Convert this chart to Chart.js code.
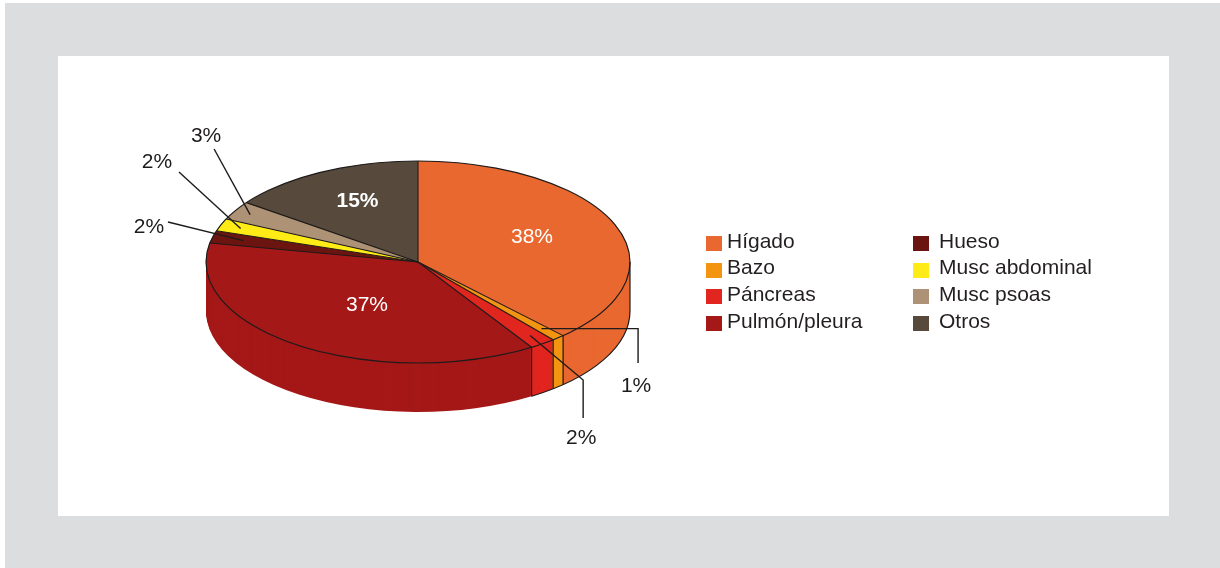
<!DOCTYPE html>
<html><head><meta charset="utf-8">
<script src="https://cdn.jsdelivr.net/npm/chart.js@4/dist/chart.umd.min.js"></script>
<style>
html,body{margin:0;padding:0;background:#fff;}
#wrap{position:relative;width:1220px;height:568px;overflow:hidden;font-family:"Liberation Sans",Arial,sans-serif;}
#bg{position:absolute;left:5px;top:3px;width:1215px;height:565px;background:#dcdddf;}
#panel{position:absolute;left:58px;top:56px;width:1111px;height:460px;background:#fff;}
#c{position:absolute;left:0;top:0;}
.lg{position:absolute;font-size:21px;color:#231f20;white-space:nowrap;line-height:21px;}
.bx{position:absolute;width:16px;height:15px;}
</style></head>
<body><div id="wrap"><div id="bg"></div><div id="panel"></div><canvas id="c" width="1220" height="568"></canvas><div id="legend"></div></div>
<script>
// ---- data ----
const categories = ['Hígado','Bazo','Páncreas','Pulmón/pleura','Hueso','Musc abdominal','Musc psoas','Otros'];
const values = [38,1,2,37,2,2,3,15];
const colors = ['#e96830','#f39511','#e1251f','#a51818','#6b1410','#ffec16','#ad9275','#574a3c'];

// ---- label placement (style) ----
const labelPlace = [
  {type:'in', f:0.6, dx:-4.3, dy:-3.7, color:'#ffffff', bold:false},
  {type:'elbow', f:0.88, lx:94.7, ly:56.3, ex:96.7, ey1:0, ey2:34.3},
  {type:'elbow', f:0.9, lx:51, ly:100.5, ex:53, ey1:44.5, ey2:82.5},
  {type:'in', f:0.46, dx:3.8, dy:2.6, color:'#ffffff', bold:false},
  {type:'line', f:0.85, lx:-94.5, ly:-15.6, sx:-75.5, sy:-18.6},
  {type:'line', f:0.9, lx:-83.6, ly:-68.5, sx:-61.6, sy:-56.5},
  {type:'line', f:0.92, lx:-44, ly:-79.7, sx:-36, sy:-65.7},
  {type:'in', f:0.66, dx:3, dy:-3, color:'#ffffff', bold:true}
];

const DEPTH = 49;
const K = 101/212;
const INK = '#1e1b1b';

function ellipseT(ctx, cx, cy){ ctx.translate(cx, cy); ctx.scale(1, K); ctx.translate(-cx, -cy); }

const pie3d = {
  id: 'pie3d',
  beforeDatasetsDraw(chart){
    const ctx = chart.ctx;
    const arcs = chart.getDatasetMeta(0).data;
    const cx = arcs[0].x, cy = arcs[0].y;
    for (let d = DEPTH; d >= 1; d--) {
      ctx.save();
      ctx.translate(0, d);
      ellipseT(ctx, cx, cy);
      arcs.forEach(a => a.draw(ctx));
      ctx.restore();
    }
    ctx.save();
    ellipseT(ctx, cx, cy);
  },
  afterDatasetsDraw(chart){
    const ctx = chart.ctx;
    ctx.restore();
    const arcs = chart.getDatasetMeta(0).data;
    const cx = arcs[0].x, cy = arcs[0].y, rx = arcs[0].outerRadius, ry = rx*K;
    const pt = (a, f, dy) => [cx + rx*f*Math.cos(a), cy + ry*f*Math.sin(a) + (dy||0)];
    ctx.save();
    ctx.strokeStyle = INK;
    ctx.lineWidth = 1.2;
    // side: vertical edges at boundaries on the front half
    arcs.forEach(a => {
      const ang = a.startAngle;
      if (Math.sin(ang) > 0.02) {
        const p = pt(ang, 1);
        ctx.beginPath(); ctx.moveTo(p[0], p[1]); ctx.lineTo(p[0], p[1] + DEPTH); ctx.stroke();
      }
    });
    // right silhouette + bottom edge of the right part of the side
    ctx.beginPath();
    ctx.moveTo(cx + rx, cy);
    ctx.ellipse(cx, cy + DEPTH, rx, ry, 0, 0, arcs[2].endAngle);
    ctx.stroke();
    // top ellipse
    ctx.beginPath(); ctx.ellipse(cx, cy, rx, ry, 0, 0, Math.PI*2); ctx.stroke();
    // radial boundaries
    ctx.lineWidth = 1.1;
    arcs.forEach(a => {
      const p = pt(a.startAngle, 1);
      ctx.beginPath(); ctx.moveTo(cx, cy); ctx.lineTo(p[0], p[1]); ctx.stroke();
    });
    // labels
    ctx.textAlign = 'center';
    ctx.textBaseline = 'alphabetic';
    arcs.forEach((a, i) => {
      const lp = labelPlace[i];
      const mid = (a.startAngle + a.endAngle) / 2;
      const anc = pt(mid, lp.f);
      const txt = values[i] + '%';
      if (lp.type === 'in') {
        ctx.font = (lp.bold ? 'bold ' : '') + '21px "Liberation Sans", Arial, sans-serif';
        ctx.fillStyle = lp.color;
        ctx.fillText(txt, anc[0] + lp.dx, anc[1] + lp.dy + 7.5);
      } else {
        ctx.strokeStyle = INK; ctx.lineWidth = 1.4;
        ctx.beginPath();
        ctx.moveTo(anc[0], anc[1]);
        if (lp.type === 'elbow') {
          ctx.lineTo(anc[0] + lp.ex, anc[1] + lp.ey1);
          ctx.lineTo(anc[0] + lp.ex, anc[1] + lp.ey2);
        } else {
          ctx.lineTo(anc[0] + lp.sx, anc[1] + lp.sy);
        }
        ctx.stroke();
        ctx.font = '21px "Liberation Sans", Arial, sans-serif';
        ctx.fillStyle = INK;
        ctx.fillText(txt, anc[0] + lp.lx, anc[1] + lp.ly + 7.5);
      }
    });
    ctx.restore();
  }
};

new Chart(document.getElementById('c'), {
  type: 'pie',
  data: { labels: categories, datasets: [{ data: values, backgroundColor: colors, borderWidth: 0 }] },
  options: {
    responsive: false,
    animation: false,
    events: [],
    layout: { padding: { left: 206, right: 590, top: 50, bottom: 94 } },
    plugins: { legend: { display: false }, tooltip: { enabled: false } }
  },
  plugins: [pie3d]
});

// HTML legend (2 columns x 4 rows)
const lg = document.getElementById('legend');
categories.forEach((name, i) => {
  const col = Math.floor(i / 4), row = i % 4;
  const base = 249 + row * 26.7;
  const bxX = col === 0 ? 706 : 913;
  const txX = col === 0 ? 727 : 939;
  const b = document.createElement('div');
  b.className = 'bx';
  b.style.left = bxX + 'px'; b.style.top = (base - 13) + 'px'; b.style.background = colors[i];
  const t = document.createElement('div');
  t.className = 'lg';
  t.style.left = txX + 'px'; t.style.top = (base - 19.5) + 'px';
  t.textContent = name;
  lg.appendChild(b); lg.appendChild(t);
});
</script>
</body></html>
